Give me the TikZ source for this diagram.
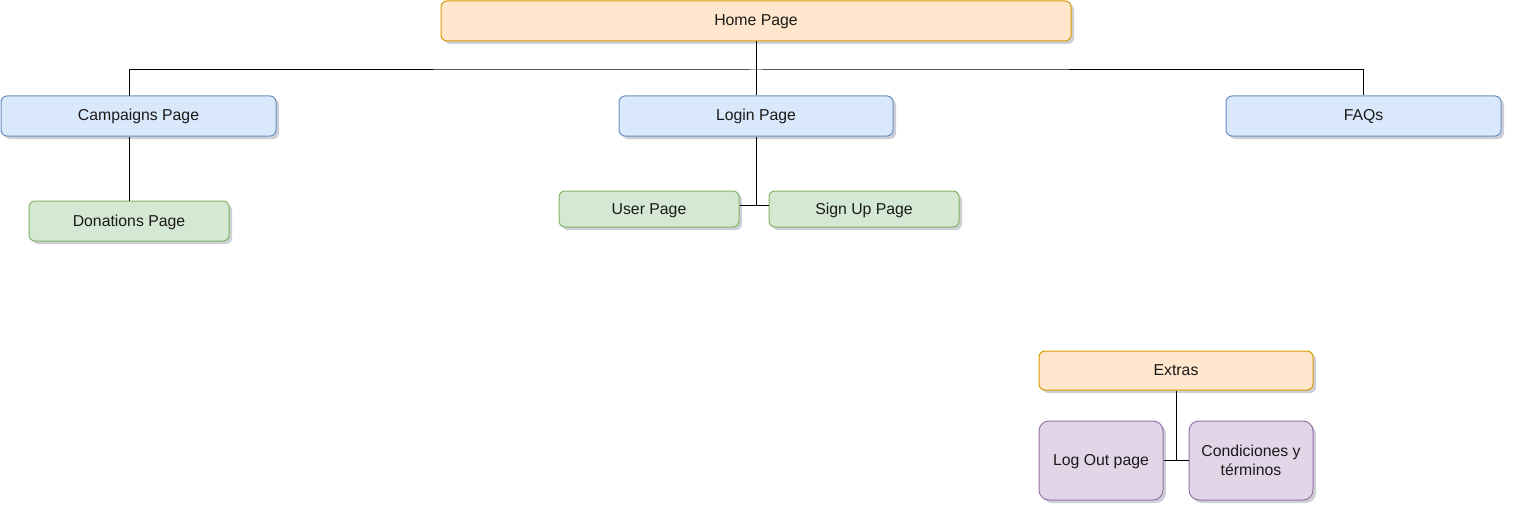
\documentclass[tikz,border=0pt]{standalone}
\usepackage{fontspec}
\setmainfont{Liberation Sans}
\usetikzlibrary{shadows}
\definecolor{orangefill}{HTML}{FFE6CC}
\definecolor{orangeline}{HTML}{D79B00}
\definecolor{bluefill}{HTML}{DAE8FC}
\definecolor{blueline}{HTML}{6C8EBF}
\definecolor{greenfill}{HTML}{D5E8D4}
\definecolor{greenline}{HTML}{82B366}
\definecolor{purplefill}{HTML}{E1D5E7}
\definecolor{purpleline}{HTML}{9673A6}
\definecolor{txt}{HTML}{1A1A1A}
\definecolor{shade}{HTML}{5A6478}
\tikzset{
  pagebox/.style={draw, line width=1pt, rounded corners=6pt, text=txt, align=center,
    inner sep=0pt, font=\fontsize{15.8}{19}\selectfont,
    drop shadow={shadow xshift=3pt, shadow yshift=-3pt, fill=shade, opacity=0.3}},
  oneline/.style={text height=11pt, text depth=1pt},
  orangebox/.style={pagebox, oneline, fill=orangefill, draw=orangeline},
  bluebox/.style={pagebox, oneline, fill=bluefill, draw=blueline},
  greenbox/.style={pagebox, oneline, fill=greenfill, draw=greenline},
  purplebox/.style={pagebox, fill=purplefill, draw=purpleline, rounded corners=10pt},
  link/.style={draw=black, line width=1pt}
}
\begin{document}
\begin{tikzpicture}[x=1pt, y=-1pt]
\useasboundingbox (0,0) rectangle (1514,516);

% top level
\node[orangebox, minimum width=630pt, minimum height=40pt] (home) at (756,21) {Home Page};

% second level
\node[bluebox, minimum width=275pt, minimum height=40pt] (camp) at (138.5,116) {Campaigns Page};
\node[bluebox, minimum width=274pt, minimum height=40pt] (login) at (756,116) {Login Page};
\node[bluebox, minimum width=275pt, minimum height=40pt] (faq) at (1363.5,116) {FAQs};

% third level
\node[greenbox, minimum width=200pt, minimum height=40pt] (don) at (129,221) {Donations Page};
\node[greenbox, minimum width=180pt, minimum height=36pt] (user) at (649,209) {User Page};
\node[greenbox, minimum width=190pt, minimum height=36pt] (sign) at (864,209) {Sign Up Page};

% extras group
\node[orangebox, minimum width=274pt, minimum height=39pt] (extras) at (1176,370.5) {Extras};
\node[purplebox, oneline, minimum width=124pt, minimum height=79pt] (logout) at (1101,460.5) {Log Out page};
\node[purplebox, minimum width=124pt, minimum height=79pt] (cond) at (1251,460.5) {Condiciones y\\términos};

% connectors
\coordinate (bus) at (756,70);
\coordinate (campTop) at (129,96);
\coordinate (loginJ) at (756,205);

\draw[link] (home.south) -- (login.north);
\draw[link] (campTop) |- (bus) -| (faq.north);
\draw[link] (don.north) -- (don.north |- camp.south);
\draw[link] (login.south) -- (loginJ);
\draw[link] (user.east |- loginJ) -- (sign.west |- loginJ);
\draw[link] (extras.south) -- (extras.south |- logout.east);
\draw[link] (logout.east) -- (cond.west);
\end{tikzpicture}
\end{document}
